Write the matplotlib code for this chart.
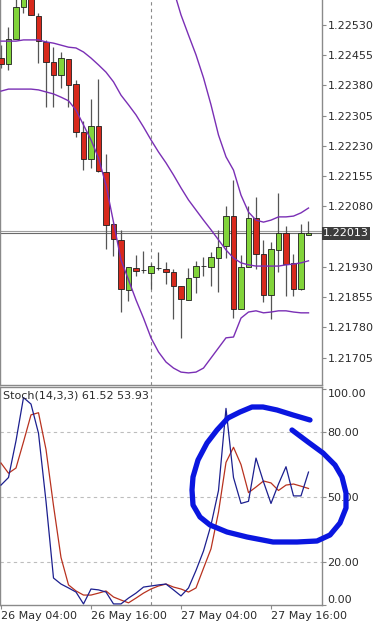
import matplotlib
matplotlib.use("Agg")
import matplotlib.pyplot as plt
from matplotlib.lines import Line2D
from matplotlib.transforms import blended_transform_factory

OUTPUT_IMAGE = "out.png"

# hourly bars, bar 0 = 26 May 04:00
TIME_LABELS = ["26 May 04:00", "26 May 16:00", "27 May 04:00", "27 May 16:00"]
TIME_LABEL_BARS = [0, 12, 24, 36]
DAY_SEPARATOR_BAR = 20  # 27 May 00:00

OPEN = [1.22448, 1.22433, 1.22495, 1.22575, 1.22604, 1.22552, 1.22488, 1.22438,
        1.22406, 1.22446, 1.22384, 1.22265, 1.22198, 1.22280, 1.22165, 1.22036,
        1.21997, 1.21873, 1.21927, 1.21922, 1.21915, 1.21927, 1.21925, 1.21917,
        1.21883, 1.21848, 1.21905, 1.21932, 1.21930, 1.21952, 1.21982, 1.22056,
        1.21826, 1.21930, 1.22051, 1.21962, 1.21860, 1.21972, 1.22014, 1.21940,
        1.21875, 1.22010]
HIGH = [1.22480, 1.22525, 1.22617, 1.22629, 1.22629, 1.22560, 1.22493, 1.22475,
        1.22463, 1.22446, 1.22394, 1.22292, 1.22346, 1.22396, 1.22210, 1.22039,
        1.22022, 1.21930, 1.21960, 1.21970, 1.21940, 1.21967, 1.21942, 1.21925,
        1.21883, 1.21927, 1.21945, 1.21955, 1.21967, 1.22022, 1.22081, 1.22146,
        1.21960, 1.22081, 1.22103, 1.21997, 1.21992, 1.22113, 1.22032, 1.21962,
        1.22036, 1.22044]
LOW = [1.22423, 1.22418, 1.22495, 1.22560, 1.22555, 1.22436, 1.22327, 1.22327,
       1.22374, 1.22327, 1.22252, 1.22170, 1.22175, 1.22165, 1.21974, 1.21957,
       1.21818, 1.21845, 1.21908, 1.21915, 1.21875, 1.21922, 1.21888, 1.21801,
       1.21754, 1.21848, 1.21865, 1.21908, 1.21883, 1.21868, 1.21952, 1.21803,
       1.21826, 1.21930, 1.21925, 1.21843, 1.21801, 1.21917, 1.21858, 1.21858,
       1.21873, 1.22009]
CLOSE = [1.22433, 1.22495, 1.22575, 1.22604, 1.22555, 1.22490, 1.22438, 1.22406,
         1.22448, 1.22381, 1.22265, 1.22198, 1.22280, 1.22168, 1.22034, 1.21999,
         1.21875, 1.21930, 1.21920, 1.21922, 1.21932, 1.21928, 1.21917, 1.21883,
         1.21850, 1.21903, 1.21932, 1.21933, 1.21955, 1.21979, 1.22056, 1.21826,
         1.21930, 1.22051, 1.21962, 1.21860, 1.21974, 1.22014, 1.21937, 1.21875,
         1.22014, 1.22013]

# Bollinger bands
BB_MID = [1.22490, 1.22490, 1.22490, 1.22493, 1.22493, 1.22493, 1.22488, 1.22485,
          1.22480, 1.22475, 1.22473, 1.22463, 1.22448, 1.22431, 1.22413, 1.22389,
          1.22356, 1.22332, 1.22307, 1.22277, 1.22245, 1.22215, 1.22188, 1.22158,
          1.22126, 1.22096, 1.22071, 1.22046, 1.22022, 1.21997, 1.21972, 1.21952,
          1.21940, 1.21935, 1.21932, 1.21932, 1.21932, 1.21932, 1.21935, 1.21937,
          1.21940, 1.21945]
BB_LOWER = [1.22366, 1.22371, 1.22371, 1.22371, 1.22371, 1.22369, 1.22364, 1.22359,
            1.22351, 1.22342, 1.22319, 1.22282, 1.22245, 1.22200, 1.22133, 1.22041,
            1.21947, 1.21898, 1.21848, 1.21803, 1.21754, 1.21719, 1.21694, 1.21679,
            1.21669, 1.21667, 1.21669, 1.21679, 1.21704, 1.21729, 1.21754, 1.21756,
            1.21803, 1.21818, 1.21821, 1.21816, 1.21818, 1.21821, 1.21821, 1.21818,
            1.21816, 1.21816]
BB_UPPER_START = 22  # earlier values are above the visible range
BB_UPPER = [1.22691, 1.22617, 1.22555, 1.22505, 1.22456, 1.22399, 1.22332, 1.22257,
            1.22203, 1.22170, 1.22108, 1.22066, 1.22046, 1.22041, 1.22046, 1.22054,
            1.22054, 1.22056, 1.22064, 1.22076]

STOCH_MAIN = [55.5, 59, 76, 96, 93, 79.5, 48, 12.5, 9.7, 7.9, 6, 0.5, 7.4, 7, 6,
              0.5, 0.5, 3.2, 5.5, 8.3, 8.8, 9.3, 9.7, 7, 4.2, 7.9, 16, 25, 37, 53,
              91, 59, 47, 48, 68, 57, 47, 56, 64, 50.5, 50.5, 61.52]
STOCH_SIGNAL = [65.7, 61, 63.4, 75.5, 88, 89, 72, 46, 22, 9.3, 6.5, 4.6, 4.6, 5.5,
                6.5, 3.7, 2.3, 1, 3.2, 5.5, 7.4, 8.8, 9.7, 8.3, 7.4, 6, 7.9, 17,
                26, 43, 66, 73, 65, 52, 54.6, 57.4, 56.5, 53, 55.5, 56, 55, 53.93]

BID = 1.22013
ASK = 1.22020
PRICE_TICKS = [1.22530, 1.22455, 1.22380, 1.22305, 1.22230, 1.22155, 1.22080,
               1.21930, 1.21855, 1.21780, 1.21705]
STOCH_LEVELS = [20, 50, 80]
STOCH_TICKS = [0, 20, 50, 80, 100]

# freehand annotation, in image pixels
CIRCLE_PX = [(310, 420), (293, 415), (277, 410), (263, 407), (252, 407), (240, 412),
             (228, 418), (217, 430), (207, 443), (198, 460), (193, 477), (192, 490),
             (193, 505), (200, 517), (210, 525), (227, 532), (247, 537), (273, 542),
             (297, 542), (317, 541), (330, 535), (340, 523), (346, 508), (346, 493),
             (342, 477), (335, 465), (323, 453), (308, 442), (292, 430)]

W, H = 386, 625
UP_COLOR = "#82d43a"
DOWN_COLOR = "#d8291c"
BAND_COLOR = "#7a2fb5"
AXIS_COLOR = "#8a8a8a"
TEXT_COLOR = "#2b2b2b"

fig = plt.figure(figsize=(W / 100, H / 100), dpi=100)
ax = fig.add_axes([0, 1 - 385 / H, 322 / W, 385 / H])
ax2 = fig.add_axes([0, 1 - 605 / H, 322 / W, 218 / H])

xlim = (-0.133, 42.8)
bars = list(range(len(OPEN)))

# candles
ax.vlines(bars, LOW, HIGH, color="#555555", lw=0.9, zorder=2)
bottoms = [min(o, c) for o, c in zip(OPEN, CLOSE)]
heights = [abs(c - o) for o, c in zip(OPEN, CLOSE)]
colors = [UP_COLOR if c > o else DOWN_COLOR for o, c in zip(OPEN, CLOSE)]
ax.bar(bars, heights, bottom=bottoms, width=0.67, color=colors,
       edgecolor="#1e1e1e", linewidth=0.6, zorder=3)

# bands
ax.plot(bars, BB_MID, color=BAND_COLOR, lw=1.0, zorder=4)
ax.plot(bars, BB_LOWER, color=BAND_COLOR, lw=1.0, zorder=4)
ax.plot(bars[BB_UPPER_START:], BB_UPPER, color=BAND_COLOR, lw=1.0, zorder=4)

# bid / ask lines
ax.axhline(ASK, color="#a0a0a0", lw=0.8, zorder=1)
ax.axhline(BID, color="#6a6a6a", lw=0.8, zorder=1)

ax.axvline(DAY_SEPARATOR_BAR, color=AXIS_COLOR, lw=0.8, ls=(0, (3, 3)), zorder=1)
ax.set_xlim(*xlim)
ax.set_ylim(1.21637, 1.22592)
ax.set_xticks([])
ax.yaxis.tick_right()
ax.set_yticks(PRICE_TICKS)
ax.set_yticklabels([f"{p:.5f}" for p in PRICE_TICKS])
ax.tick_params(axis="y", direction="out", length=3, width=0.8, color=AXIS_COLOR,
               labelsize=8, labelcolor=TEXT_COLOR, pad=1)
ax.text(1.003, BID, f"{BID:.5f}", transform=blended_transform_factory(ax.transAxes, ax.transData),
        ha="left", va="center", fontsize=8, color="white",
        bbox=dict(boxstyle="square,pad=0.12", fc="#3d3d3d", ec="none"))
for side in ["left", "right", "bottom"]:
    ax.spines[side].set_color(AXIS_COLOR)
    ax.spines[side].set_linewidth(1.0)
ax.spines["top"].set_visible(False)

# stochastic
for lvl in STOCH_LEVELS:
    ax2.axhline(lvl, color="#bdbdbd", lw=0.8, ls=(0, (3, 3)), zorder=1)
ax2.axvline(DAY_SEPARATOR_BAR, color=AXIS_COLOR, lw=0.8, ls=(0, (3, 3)), zorder=1)
ax2.plot(bars, STOCH_SIGNAL, color="#b8321f", lw=0.9, zorder=3)
ax2.plot(bars, STOCH_MAIN, color="#1c1f8f", lw=0.9, zorder=4)
ax2.set_xlim(*xlim)
ax2.set_ylim(0, 100.9)
ax2.yaxis.tick_right()
ax2.set_yticks(STOCH_TICKS)
ax2.set_yticklabels([f"{v:.2f}" for v in STOCH_TICKS])
ax2.tick_params(axis="y", direction="out", length=3, width=0.8, color=AXIS_COLOR,
                labelsize=8, labelcolor=TEXT_COLOR, pad=1)
ylabels = ax2.get_yticklabels()
ylabels[0].set_va("bottom")
ylabels[-1].set_va("top")
ax2.set_xticks(TIME_LABEL_BARS)
ax2.set_xticklabels(TIME_LABELS, ha="left")
ax2.tick_params(axis="x", direction="out", length=3, width=0.8, color=AXIS_COLOR,
                labelsize=8, labelcolor=TEXT_COLOR, pad=1)
for side in ["left", "right", "bottom", "top"]:
    ax2.spines[side].set_color(AXIS_COLOR)
    ax2.spines[side].set_linewidth(1.0)
ax2.text(0.008, 0.985, f"Stoch(14,3,3) {STOCH_MAIN[-1]:.2f} {STOCH_SIGNAL[-1]:.2f}",
         transform=ax2.transAxes, ha="left", va="top", fontsize=8, color=TEXT_COLOR, zorder=5)

# hand drawn circle over the indicator
cx = [p[0] / W for p in CIRCLE_PX]
cy = [1 - p[1] / H for p in CIRCLE_PX]
fig.add_artist(Line2D(cx, cy, transform=fig.transFigure, color="#0a16e0", lw=3.8,
                      solid_capstyle="round", solid_joinstyle="round", zorder=10))

fig.savefig(OUTPUT_IMAGE, dpi=100)
plt.close(fig)
